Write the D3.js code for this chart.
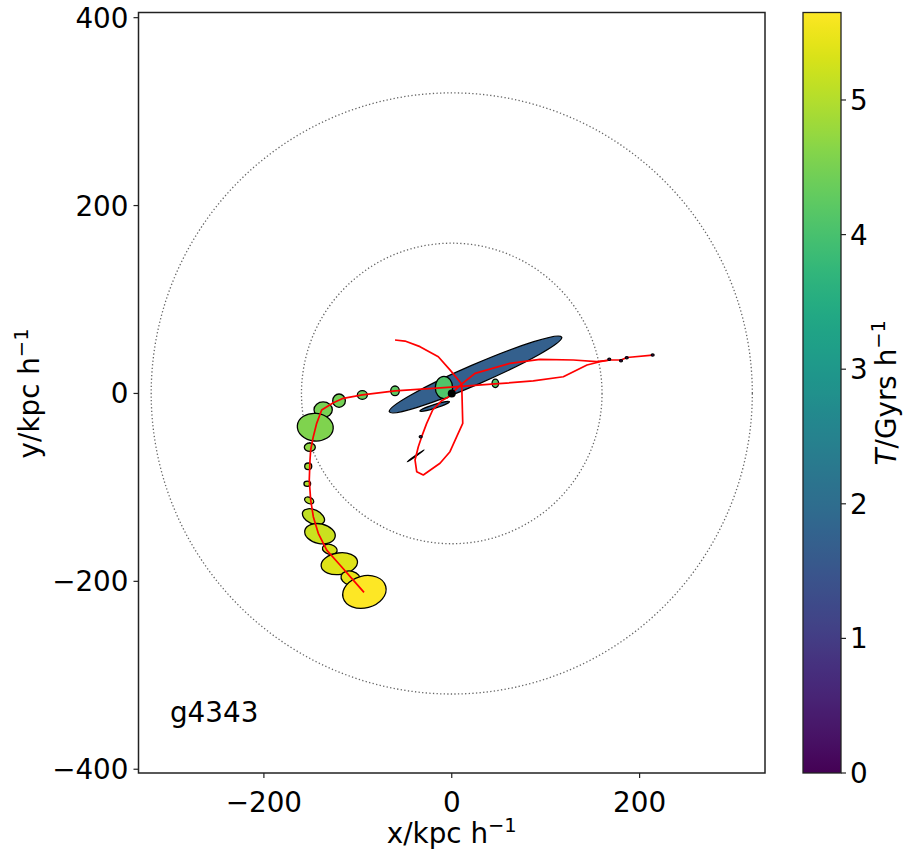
<!DOCTYPE html>
<html><head><meta charset="utf-8">
<script src="https://cdn.jsdelivr.net/npm/d3@7"></script>
<style>body{margin:0;background:#fff;} text{font-family:"DejaVu Sans",sans-serif;fill:#000;}</style>
</head><body><svg id="c" width="917" height="860"></svg>
<script>
// ---------- data ----------
const haloLabel = "g4343";
const labelPos = [-300, -350];
const xTicks = [-200, 0, 200];
const yTicks = [-400, -200, 0, 200, 400];
const cbTicks = [0, 1, 2, 3, 4, 5];
const tMax = 5.65;
const circleRadii = [160, 320];
const hostPos = [0, 0];

// snapshot ellipses (kpc/h), angle in degrees, T in Gyrs/h
const ellX     = [25.3, -18.2, -38.4, -8.3, 46.4, -60.4, -95.2, -120.0, -136.9, -145.3, -151.1, -152.8, -153.8, -151.8, -147.2, -140.3, -129.8, -119.7, -107.6, -93.0];
const ellY     = [20.2, -13.7, -66.4, 6.3, 10.8, 2.8, -1.6, -7.7, -17.4, -35.9, -57.2, -77.6, -96.1, -113.9, -131.3, -149.3, -165.9, -181.2, -196.6, -211.3];
const ellW     = [200, 33, 22, 18.5, 7, 9.2, 10.6, 13.5, 19.5, 38.3, 11.7, 7.5, 7.1, 10.3, 25, 33, 16, 39, 21, 47];
const ellH     = [21, 4, 0.8, 23.7, 9, 10.3, 9.2, 14.2, 16.7, 29.5, 8.9, 7.1, 5.7, 6.5, 15, 21, 10.5, 23, 15, 34];
const ellAngle = [23.4, 17.6, 35, 0, 0, 0, 0, 0, 0, -5, 0, 0, 0, -25, -25, -12, -15, 8, -15, 15];
const ellT     = [1.7, 1.75, 0.3, 4.1, 4.15, 4.25, 4.35, 4.45, 4.5, 4.55, 4.7, 4.85, 4.95, 5.03, 5.1, 5.2, 5.28, 5.37, 5.45, 5.65];

// tiny early snapshots
const dotX = [213.9, 186.3, 180.2, 167.7, -33.1];
const dotY = [40.9, 38.1, 34.9, 36.4, -46.0];
const dotT = [0.05, 0.1, 0.15, 0.2, 0.6];

// trajectories
const trackAX = [213.9, 186.6, 180.2, 168.5, 157.8, 144.0, 118.8, 86.8, 46.0, -8.3, -60.4, -95.2, -115.5, -126.1, -138.5, -143.8, -147.4, -150.2, -150.9, -151.7, -150.2, -147.4, -142.1, -133.1, -119.0, -106.5, -93.4];
const trackAY = [40.9, 38.3, 35.6, 35.6, 33.8, 30.3, 17.8, 13.3, 10.1, 6.3, 2.8, -1.6, -5.2, -9.8, -17.6, -31.8, -46.0, -60.2, -70.8, -92.1, -113.4, -131.2, -148.9, -166.7, -182.6, -196.8, -211.7];
const trackBX = [-60.4, -49.8, -33.8, -14.3, -1.9, 10.6, 11.7, 5.3, -1.9, -12.5, -30.3, -37.3, -39.1, -35.6, -32.0, -26.7, -20.3, -10.7, 0];
const trackBY = [56.9, 55.8, 49.8, 39.1, 25.1, 10.1, -31.8, -46.0, -62.0, -74.3, -86.8, -83.3, -70.8, -56.7, -46.0, -31.8, -17.6, -7.7, -1.6];
const trackCX = [0, 10.6, 24.8, 62.0, 93.9, 129.4, 154.3, 168.5];
const trackCY = [0, 10.1, 21.4, 32.1, 36.3, 35.6, 33.8, 35.6];

// ---------- drawing ----------
const svg = d3.select("#c");
const L = 138.5, R = 765, T = 12.5, B = 773;
const x = d3.scaleLinear().domain([-333.5, 333.5]).range([L, R]);
const y = d3.scaleLinear().domain([-404, 405.5]).range([B, T]);
const color = t => d3.interpolateViridis(t / tMax);
const FS = 27.8;

svg.append("defs").append("clipPath").attr("id", "clip")
  .append("rect").attr("x", L).attr("y", T).attr("width", R - L).attr("height", B - T);
const g = svg.append("g").attr("clip-path", "url(#clip)");

// dotted circles
g.selectAll("circle.ring").data(circleRadii).join("circle")
  .attr("cx", x(0)).attr("cy", y(0))
  .attr("r", d => x(d) - x(0))
  .attr("fill", "none").attr("stroke", "#666").attr("stroke-width", 1.3)
  .attr("stroke-dasharray", "1.3,2.3");

// ellipses
const ells = d3.range(ellX.length).map(i => ({x: ellX[i], y: ellY[i], w: ellW[i], h: ellH[i], a: ellAngle[i], t: ellT[i]}));
g.selectAll("ellipse.snap").data(ells).join("ellipse")
  .attr("cx", d => x(d.x)).attr("cy", d => y(d.y))
  .attr("rx", d => x(d.w / 2) - x(0)).attr("ry", d => y(0) - y(d.h / 2))
  .attr("transform", d => `rotate(${-d.a},${x(d.x)},${y(d.y)})`)
  .attr("fill", d => color(d.t)).attr("stroke", "#000").attr("stroke-width", 1.3);

// tracks
const line = d3.line().x(d => x(d[0])).y(d => y(d[1]));
const tracks = [d3.zip(trackAX, trackAY), d3.zip(trackBX, trackBY), d3.zip(trackCX, trackCY)];
g.selectAll("path.track").data(tracks).join("path")
  .attr("d", line).attr("fill", "none").attr("stroke", "#ff0000").attr("stroke-width", 1.7)
  .attr("stroke-linejoin", "round");

// tiny snapshots
g.selectAll("ellipse.tiny").data(d3.range(dotX.length)).join("ellipse")
  .attr("cx", i => x(dotX[i])).attr("cy", i => y(dotY[i]))
  .attr("rx", x(1.6) - x(0)).attr("ry", y(0) - y(1.2))
  .attr("fill", i => color(dotT[i])).attr("stroke", "#000").attr("stroke-width", 1.2);

// host
g.append("circle").attr("cx", x(hostPos[0])).attr("cy", y(hostPos[1])).attr("r", 4).attr("fill", "#000");

// label
svg.append("text").attr("x", x(labelPos[0])).attr("y", y(labelPos[1])).attr("font-size", FS).text(haloLabel);

// frame
svg.append("rect").attr("x", L).attr("y", T).attr("width", R - L).attr("height", B - T)
  .attr("fill", "none").attr("stroke", "#222").attr("stroke-width", 1.5);

const fmt = v => (v < 0 ? "\u2212" + Math.abs(v) : "" + v);
// x ticks
const xt = svg.append("g");
xTicks.forEach(v => {
  xt.append("line").attr("x1", x(v)).attr("x2", x(v)).attr("y1", B).attr("y2", B + 5).attr("stroke", "#222").attr("stroke-width", 1.2);
  xt.append("text").attr("x", x(v)).attr("y", B + 39).attr("text-anchor", "middle").attr("font-size", FS).text(fmt(v));
});
// y ticks
yTicks.forEach(v => {
  xt.append("line").attr("x1", L - 5).attr("x2", L).attr("y1", y(v)).attr("y2", y(v)).attr("stroke", "#222").attr("stroke-width", 1.2);
  xt.append("text").attr("x", L - 10).attr("y", y(v) + 10).attr("text-anchor", "end").attr("font-size", FS).text(fmt(v));
});

// axis labels
function unitLabel(sel, prefix, italicFirst) {
  if (italicFirst) {
    sel.append("tspan").attr("font-style", "italic").text(prefix[0]);
    sel.append("tspan").text(prefix.slice(1));
  } else sel.append("tspan").text(prefix);
  sel.append("tspan").attr("font-size", FS * 0.7).attr("dy", -11.5).text("\u22121");
}
const xl = svg.append("text").attr("x", x(0)).attr("y", 843).attr("text-anchor", "middle").attr("font-size", FS);
unitLabel(xl, "x/kpc h", false);
const yl = svg.append("text").attr("transform", `translate(39,${y(0)}) rotate(-90)`).attr("text-anchor", "middle").attr("font-size", FS);
unitLabel(yl, "y/kpc h", false);

// colorbar
const cbL = 803, cbR = 841;
const cy = d3.scaleLinear().domain([0, tMax]).range([B, T]);
const grad = svg.select("defs").append("linearGradient").attr("id", "vir")
  .attr("x1", 0).attr("y1", 1).attr("x2", 0).attr("y2", 0);
d3.range(0, 1.0001, 0.02).forEach(f => grad.append("stop").attr("offset", f).attr("stop-color", d3.interpolateViridis(f)));
svg.append("rect").attr("x", cbL).attr("y", T).attr("width", cbR - cbL).attr("height", B - T)
  .attr("fill", "url(#vir)").attr("stroke", "#222").attr("stroke-width", 1.3);
cbTicks.forEach(v => {
  svg.append("line").attr("x1", cbR).attr("x2", cbR + 5).attr("y1", cy(v)).attr("y2", cy(v)).attr("stroke", "#222").attr("stroke-width", 1.2);
  svg.append("text").attr("x", cbR + 9).attr("y", cy(v) + 10).attr("font-size", FS).text(v);
});
const cl = svg.append("text").attr("transform", `translate(896,${(T + B) / 2}) rotate(-90)`).attr("text-anchor", "middle").attr("font-size", FS);
unitLabel(cl, "T/Gyrs h", true);
</script></body></html>
